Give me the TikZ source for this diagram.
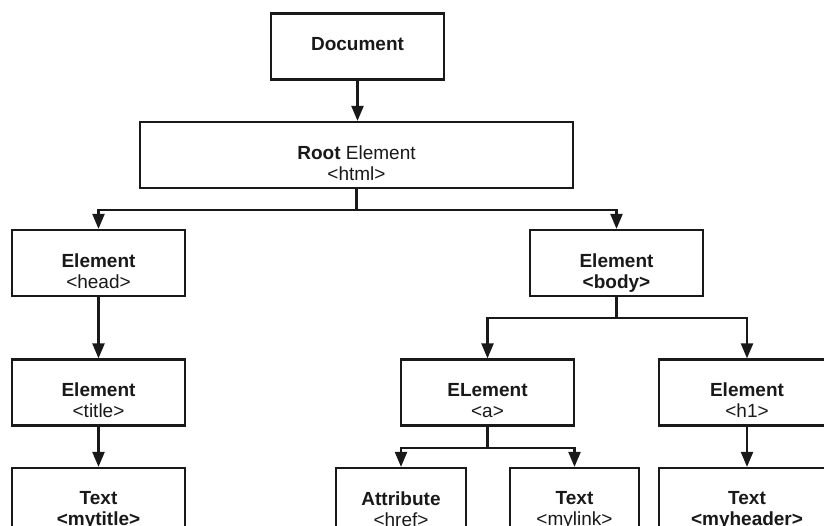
\documentclass[tikz,border=0pt]{standalone}
\usepackage{fontspec}
\setmainfont{Liberation Sans}
\usetikzlibrary{arrows.meta}
\definecolor{ink}{RGB}{25,25,25}
\tikzset{
  box/.style={draw=ink, line width=2.2pt, fill=white, minimum height=66pt, inner sep=0pt},
  wide/.style={box, minimum width=173pt},
  txt/.style={anchor=north, inner sep=0pt, align=center, text=ink,
    font=\fontsize{19}{21}\selectfont},
  link/.style={draw=ink, line width=2.2pt, -{Triangle[width=12pt,length=15pt]}},
}
% a framed box with its caption set a little above the centre line
\newcommand{\treebox}[4]{%
  \node[#1] (#2) at (#3) {};
  \node[txt] (#2-t) at ([yshift=9.5pt]#2.center) {#4};
}
\begin{document}
\begin{tikzpicture}[x=1pt,y=-1pt]
  \useasboundingbox (0,0) rectangle (824,526);
  \clip (0,0) rectangle (824,526);

  % tree of document nodes
  \treebox{wide}{doc}{357.5,46.5}{\textbf{Document}}
  \treebox{box, minimum width=433pt}{root}{356.5,155}{\textbf{Root} Element\\<html>}

  \treebox{wide}{head}{98.5,263}{\textbf{Element}\\<head>}
  \treebox{wide}{body}{616.5,263}{\textbf{Element}\\\textbf{<body>}}

  \treebox{wide}{title}{98.5,392.5}{\textbf{Element}\\<title>}
  \treebox{wide}{a}{487.5,392.5}{\textbf{ELement}\\<a>}
  \treebox{box, minimum width=176pt}{h1}{747,392.5}{\textbf{Element}\\<h1>}

  \treebox{wide}{mytitle}{98.5,501}{\textbf{Text}\\\textbf{<mytitle>}}
  \treebox{box, minimum width=130pt}{href}{401,501}{\textbf{Attribute}\\<href>}
  \treebox{box, minimum width=129pt}{mylink}{574.5,501}{\textbf{Text}\\<mylink>}
  \treebox{box, minimum width=176pt}{myheader}{747,501}{\textbf{Text}\\\textbf{<myheader>}}

  % connectors
  \draw[link] (doc.south) -- (doc.south |- root.north);
  \draw[link] (root.south) -- ++(0,21) -| (head.north);
  \draw[link] (root.south) -- ++(0,21) -| (body.north);
  \draw[link] (head) -- (title);
  \draw[link] (title) -- (mytitle);
  \draw[link] (body.south) -- ++(0,21) -| (a.north);
  \draw[link] (body.south) -- ++(0,21) -| (h1.north);
  \draw[link] (a.south) -- ++(0,21) -| (href.north);
  \draw[link] (a.south) -- ++(0,21) -| (mylink.north);
  \draw[link] (h1) -- (myheader);
\end{tikzpicture}
\end{document}
